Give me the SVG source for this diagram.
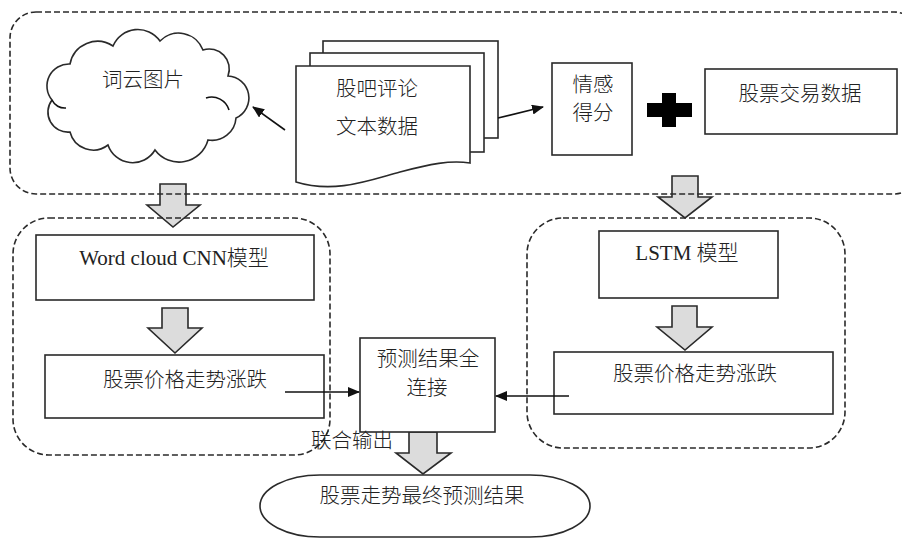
<svg xmlns="http://www.w3.org/2000/svg" width="902" height="538" viewBox="0 0 902 538">
<style>
.bg{fill:#fff}
.box{fill:#fff;stroke:#2a2a2a;stroke-width:1.6}
.dash{fill:none;stroke:#2a2a2a;stroke-width:1.6;stroke-dasharray:6 3}
.blk{fill:#dcdcdc;stroke:#2a2a2a;stroke-width:1.6;stroke-linejoin:miter}
.ln{fill:none;stroke:#111;stroke-width:1.6}
.cjk{font-family:"Noto Sans CJK SC","Noto Sans",sans-serif;font-weight:300;font-size:20.5px;fill:#222;text-anchor:middle;dominant-baseline:central}
.lat{font-family:"Liberation Serif","Noto Sans CJK SC",serif;font-weight:300;font-size:21px;fill:#222;text-anchor:middle;dominant-baseline:central}
</style>
<defs>
<marker id="ah" viewBox="0 0 12 10" refX="11" refY="5" markerWidth="12" markerHeight="10" markerUnits="userSpaceOnUse" orient="auto">
<path d="M0,0 L12,5 L0,10 Z" fill="#111"/>
</marker>
</defs>
<rect class="bg" x="0" y="0" width="902" height="538"/>

<g id="block-arrows">
<path class="blk" d="M160,184 H186 V205 H200 L173,227 L147,205 H160 Z"/>
<path class="blk" d="M672,176 H698 V197 H712 L685,218 L658,197 H672 Z"/>
<path class="blk" d="M162,308 H188 V328 H202 L175,353 L148,328 H162 Z"/>
<path class="blk" d="M672,306 H697 V327 H712 L685,350 L657,327 H672 Z"/>
<path class="blk" d="M409,432 H437 V453 H451 L423,474 L396,453 H409 Z"/>
</g>

<g id="containers">
<rect id="top-group" class="dash" x="10" y="12" width="910" height="182" rx="26" ry="26"/>
<rect id="left-group" class="dash" x="13" y="218" width="317" height="237" rx="36" ry="36"/>
<rect id="right-group" class="dash" x="527" y="218" width="318" height="230" rx="36" ry="36"/>
</g>

<g id="cloud">
<path class="box" d="M52,100 A22,22 0 0,1 70,64 A28,28 0 0,1 113,46 A27,27 0 0,1 160,41 A26,26 0 0,1 203,50 A20,20 0 0,1 228,76 A22,22 0 0,1 236,118 A24,24 0 0,1 208,140 A30,30 0 0,1 155,150 A26,26 0 0,1 108,145 A24,24 0 0,1 70,132 A20,20 0 0,1 52,100 Z"/>
<path class="ln" d="M206,98 A18,18 0 0,1 229,110"/>
<path class="ln" d="M52,100 A14,14 0 0,0 66,108"/>
<text class="cjk" x="143" y="78">词云图片</text>
</g>

<g id="docs">
<rect class="box" x="323" y="41" width="175" height="97"/>
<rect class="box" x="310" y="53" width="174" height="99"/>
<path class="box" d="M296,66 H470 V163 C450,160 430,164 400,172 C370,180 335,194 296,182 Z"/>
<text class="cjk" x="377" y="87">股吧评论</text>
<text class="cjk" x="377" y="125">文本数据</text>
</g>

<g id="sentiment">
<rect class="box" x="552" y="63" width="80" height="92"/>
<text class="cjk" x="593" y="83">情感</text>
<text class="cjk" x="593" y="111">得分</text>
</g>

<g id="plus">
<rect x="647" y="103" width="45" height="14" fill="#000"/>
<rect x="662" y="93" width="14" height="34" fill="#000"/>
</g>

<g id="trade-data">
<rect class="box" x="705" y="69" width="192" height="65"/>
<text class="cjk" x="800" y="92">股票交易数据</text>
</g>

<g id="cnn">
<rect class="box" x="36" y="235" width="278" height="65"/>
<text class="lat" x="174" y="258">Word cloud CNN模型</text>
</g>

<g id="lstm">
<rect class="box" x="599" y="231" width="179" height="67"/>
<text class="lat" x="687" y="253">LSTM 模型</text>
</g>

<g id="left-trend">
<rect class="box" x="45" y="355" width="279" height="63"/>
<text class="cjk" x="185" y="378">股票价格走势涨跌</text>
</g>

<g id="right-trend">
<rect class="box" x="554" y="352" width="279" height="62"/>
<text class="cjk" x="695" y="372">股票价格走势涨跌</text>
</g>

<g id="fusion">
<rect class="box" x="360" y="338" width="135" height="94"/>
<text class="cjk" x="428" y="357">预测结果全</text>
<text class="cjk" x="427" y="386">连接</text>
</g>

<g id="final">
<rect class="box" x="260" y="475" width="330" height="62" rx="60" ry="31"/>
<text class="cjk" x="422" y="494">股票走势最终预测结果</text>
</g>

<g id="connectors">
<line class="ln" x1="285" y1="130" x2="253" y2="107" marker-end="url(#ah)"/>
<line class="ln" x1="498" y1="118" x2="543" y2="107" marker-end="url(#ah)"/>
<line class="ln" x1="285" y1="392" x2="359" y2="392" marker-end="url(#ah)"/>
<line class="ln" x1="569" y1="396" x2="496" y2="396" marker-end="url(#ah)"/>
<text class="cjk" x="352" y="439">联合输出</text>
</g>
</svg>
